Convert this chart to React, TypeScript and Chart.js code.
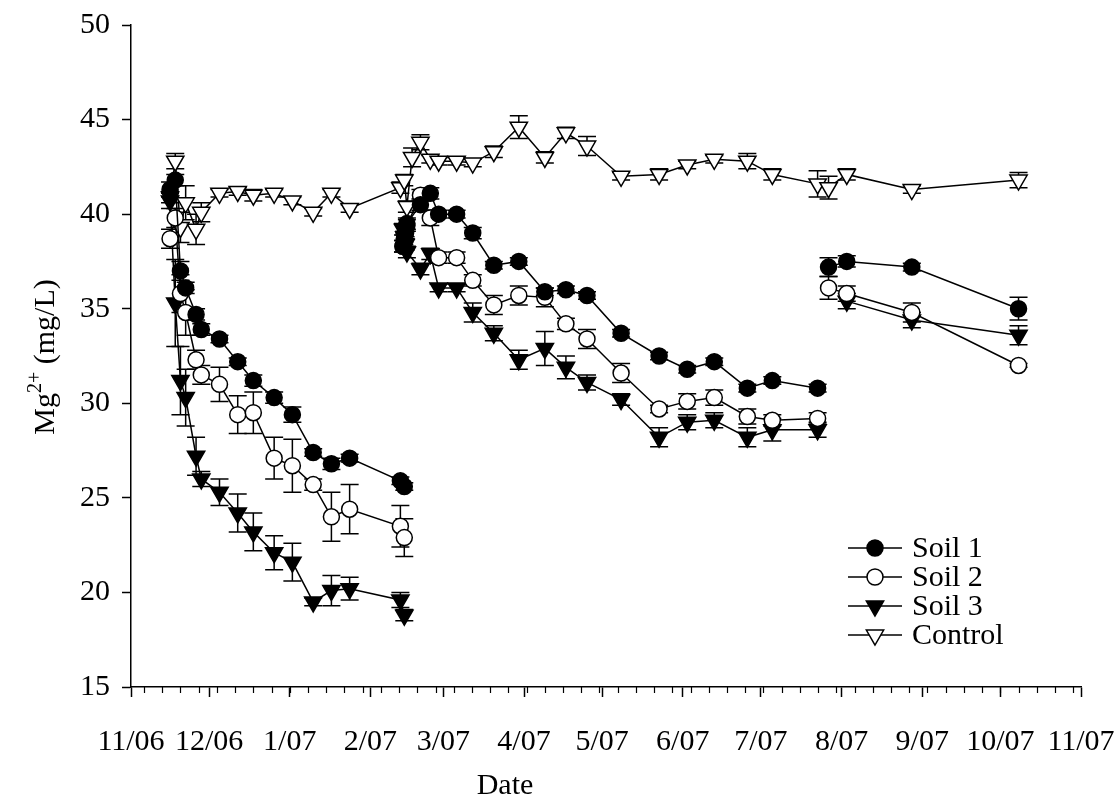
import React, { useEffect, useRef } from "react";
import { Chart, registerables } from "chart.js";

Chart.register(...registerables);

const FONT = "'Liberation Serif', 'Times New Roman', serif";
const FS = 30;

// x values are days since 1 Nov 2006
const monthTickDays = [0, 30, 61, 92, 120, 151, 181, 212, 242, 273, 304, 334, 365];
const monthTickLabels = ["11/06", "12/06", "1/07", "2/07", "3/07", "4/07", "5/07", "6/07", "7/07", "8/07", "9/07", "10/07", "11/07"];
const firstMondayDay = 5;
const xTitle = "Date";

// Run 1 (Nov 06 – Feb 07)
const run1Days = [15, 17, 19, 21, 25, 27, 34, 41, 47, 55, 62, 70, 77, 84, 103.5, 105];
const soil1Run1 = [41.3, 41.8, 37.0, 36.1, 34.7, 33.9, 33.4, 32.2, 31.2, 30.3, 29.4, 27.4, 26.8, 27.1, 25.9, 25.6];
const soil1Run1Err = [0.4, 0.3, 0.5, 0.3, 0.3, 0.3, 0.2, 0.2, 0.3, 0.3, 0.4, 0.2, 0.3, 0.2, 0.2, 0.2];
const soil2Run1 = [38.7, 39.8, 35.8, 34.8, 32.3, 31.5, 31.0, 29.4, 29.5, 27.1, 26.7, 25.7, 24.0, 24.4, 23.5, 22.9];
const soil2Run1Err = [0.5, 0.5, 1.0, 1.2, 0.5, 0.5, 0.9, 1.0, 1.1, 1.1, 1.4, 0.3, 1.3, 1.3, 1.1, 1.0];
const soil3Run1 = [40.7, 35.3, 31.2, 30.3, 27.2, 26.0, 25.3, 24.2, 23.2, 22.1, 21.6, 19.5, 20.1, 20.2, 19.6, 18.8];
const soil3Run1Err = [0.4, 2.3, 1.8, 1.5, 1.0, 0.4, 0.7, 1.0, 1.0, 0.9, 1.0, 0.2, 0.8, 0.6, 0.4, 0.3];

// Run 2 (Feb 07 – Jul 07)
const run2Days = [104.5, 105, 105.5, 106, 111.2, 115, 118.2, 125.1, 131.3, 139.4, 149, 159, 167.1, 175.2, 188.3, 202.9, 213.7, 224.1, 236.8, 246.4, 263.8];
const soil1Run2 = [38.3, 38.7, 39.1, 39.5, 40.5, 41.1, 40.0, 40.0, 39.0, 37.3, 37.5, 35.9, 36.0, 35.7, 33.7, 32.5, 31.8, 32.2, 30.8, 31.2, 30.8];
const soil1Run2Err = [0.3, 0.3, 0.3, 0.3, 0.3, 0.3, 0.2, 0.2, 0.3, 0.2, 0.2, 0.2, 0.2, 0.2, 0.2, 0.2, 0.2, 0.2, 0.2, 0.2, 0.2];
const soil2Run2 = [38.3, 38.6, 39.0, 39.4, 41.0, 39.8, 37.7, 37.7, 36.5, 35.2, 35.7, 35.6, 34.2, 33.4, 31.6, 29.7, 30.1, 30.3, 29.3, 29.1, 29.2];
const soil2Run2Err = [0.3, 0.3, 0.3, 0.3, 0.3, 0.4, 0.3, 0.3, 0.3, 0.5, 0.5, 0.5, 0.3, 0.5, 0.5, 0.2, 0.4, 0.4, 0.4, 0.3, 0.3];
const soil3Run2 = [39.2, 38.8, 38.4, 38.0, 37.1, 37.9, 36.1, 36.1, 34.8, 33.7, 32.3, 32.9, 31.9, 31.1, 30.2, 28.2, 29.0, 29.1, 28.2, 28.6, 28.6];
const soil3Run2Err = [0.3, 0.3, 0.3, 0.3, 0.3, 0.3, 0.2, 0.2, 0.5, 0.4, 0.5, 0.9, 0.6, 0.4, 0.3, 0.5, 0.4, 0.4, 0.5, 0.6, 0.4];

// Run 3 (Jul 07 – Oct 07)
const run3Days = [268, 275, 300, 341];
const soil1Run3 = [37.2, 37.5, 37.2, 35.0];
const soil1Run3Err = [0.5, 0.3, 0.2, 0.6];
const soil2Run3 = [36.1, 35.8, 34.8, 32.0];
const soil2Run3Err = [0.6, 0.4, 0.5, 0.1];
const soil3Run3 = [null, 35.4, 34.4, 33.6];
const soil3Run3Err = [0, 0.4, 0.4, 0.5];

// Control (continuous)
const controlDays = [15, 17, 19, 21, 25, 27, 34, 41, 47, 55, 62, 70, 77, 84, 103.5, 105, 106, 108, 111.2, 115, 118.2, 125.1, 131.3, 139.4, 149, 159, 167.1, 175.2, 188.3, 202.9, 213.7, 224.1, 236.8, 246.4, 263.8, 268, 275, 300, 341];
const controlValues = [40.9, 42.8, 39.3, 40.6, 39.2, 40.1, 41.1, 41.2, 41.0, 41.1, 40.7, 40.1, 41.1, 40.3, 41.4, 41.8, 40.4, 43.0, 43.8, 42.9, 42.8, 42.8, 42.7, 43.3, 44.6, 43.0, 44.3, 43.6, 42.0, 42.1, 42.6, 42.9, 42.8, 42.1, 41.6, 41.4, 42.1, 41.3, 41.8];
const controlErr = [0.3, 0.4, 0.8, 0.9, 0.8, 0.5, 0.2, 0.2, 0.3, 0.2, 0.2, 0.2, 0.2, 0.2, 0.3, 0.3, 0.3, 0.5, 0.4, 0.2, 0.2, 0.2, 0.2, 0.3, 0.6, 0.3, 0.3, 0.5, 0.2, 0.3, 0.2, 0.2, 0.4, 0.3, 0.7, 0.6, 0.3, 0.2, 0.4];

const legendLabels = ["Soil 1", "Soil 2", "Soil 3", "Control"];

const toPoints = (days: number[], vals: (number | null)[]) =>
  days.map((d, i) => ({ x: d, y: vals[i] })).filter((p) => p.y !== null);
const toErrs = (vals: (number | null)[], errs: number[]) =>
  errs.filter((_, i) => vals[i] !== null);

const styles = [
  { pointStyle: "circle", radius: 8, rotation: 0, fill: "#000" },
  { pointStyle: "circle", radius: 8, rotation: 0, fill: "#fff" },
  { pointStyle: "triangle", radius: 10, rotation: 180, fill: "#000" },
  { pointStyle: "triangle", radius: 10, rotation: 180, fill: "#fff" },
];

function makeDataset(series: number, days: number[], vals: (number | null)[], errs: number[]) {
  const s = styles[series];
  return {
    label: legendLabels[series],
    data: toPoints(days, vals),
    errors: toErrs(vals, errs),
    borderColor: "#000",
    borderWidth: 1.5,
    pointStyle: s.pointStyle,
    pointRadius: s.radius,
    pointRotation: s.rotation,
    pointBackgroundColor: s.fill,
    pointBorderColor: "#000",
    pointBorderWidth: 1.5,
    fill: false,
    tension: 0,
  };
}

function drawMarker(ctx: CanvasRenderingContext2D, s: any, x: number, y: number) {
  ctx.beginPath();
  if (s.pointStyle === "circle") {
    ctx.arc(x, y, s.radius, 0, Math.PI * 2);
  } else {
    const r = s.radius;
    for (let k = 0; k < 3; k++) {
      const a = Math.PI / 2 + (k * 2 * Math.PI) / 3;
      const px = x + Math.cos(a) * r;
      const py = y + Math.sin(a) * r;
      if (k === 0) ctx.moveTo(px, py);
      else ctx.lineTo(px, py);
    }
    ctx.closePath();
  }
  ctx.fillStyle = s.fill;
  ctx.fill();
  ctx.strokeStyle = "#000";
  ctx.lineWidth = 1.5;
  ctx.stroke();
}

const errorBarPlugin = {
  id: "errorBars",
  beforeDatasetsDraw(chart: any) {
    const ctx = chart.ctx;
    const ys = chart.scales.y;
    ctx.save();
    ctx.strokeStyle = "#000";
    ctx.lineWidth = 1.5;
    chart.data.datasets.forEach((ds: any, i: number) => {
      const meta = chart.getDatasetMeta(i);
      if (!ds.errors) return;
      meta.data.forEach((el: any, j: number) => {
        const e = ds.errors[j];
        const raw = ds.data[j];
        if (!e || raw == null) return;
        const top = ys.getPixelForValue(raw.y + e);
        const bot = ys.getPixelForValue(raw.y - e);
        const x = el.x;
        ctx.beginPath();
        ctx.moveTo(x, top);
        ctx.lineTo(x, bot);
        ctx.moveTo(x - 9, top);
        ctx.lineTo(x + 9, top);
        ctx.moveTo(x - 9, bot);
        ctx.lineTo(x + 9, bot);
        ctx.stroke();
      });
    });
    ctx.restore();
  },
};

const extrasPlugin = {
  id: "extras",
  afterDraw(chart: any) {
    const ctx = chart.ctx;
    const xs = chart.scales.x;
    const area = chart.chartArea;
    ctx.save();
    // minor weekly ticks
    ctx.strokeStyle = "#000";
    ctx.lineWidth = 1.2;
    for (let d = firstMondayDay; d < 365; d += 7) {
      const px = Math.round(xs.getPixelForValue(d)) + 0.5;
      ctx.beginPath();
      ctx.moveTo(px, area.bottom);
      ctx.lineTo(px, area.bottom + 6);
      ctx.stroke();
    }
    // x axis title
    ctx.fillStyle = "#000";
    ctx.font = `${FS}px ${FONT}`;
    ctx.textAlign = "center";
    ctx.textBaseline = "middle";
    ctx.fillText(xTitle, 505, 786);
    ctx.restore();

    // y axis title with superscript
    ctx.save();
    ctx.translate(54, 357);
    ctx.rotate(-Math.PI / 2);
    ctx.fillStyle = "#000";
    ctx.textBaseline = "alphabetic";
    ctx.textAlign = "left";
    const big = `${FS}px ${FONT}`;
    const small = `20px ${FONT}`;
    ctx.font = big;
    const w1 = ctx.measureText("Mg").width;
    const w3 = ctx.measureText(" (mg/L)").width;
    ctx.font = small;
    const w2 = ctx.measureText("2+").width;
    let x0 = -(w1 + w2 + w3) / 2;
    ctx.font = big;
    ctx.fillText("Mg", x0, 0);
    x0 += w1;
    ctx.font = small;
    ctx.fillText("2+", x0, -13);
    x0 += w2;
    ctx.font = big;
    ctx.fillText(" (mg/L)", x0, 0);
    ctx.restore();

    // legend
    ctx.save();
    ctx.font = `${FS}px ${FONT}`;
    ctx.textBaseline = "middle";
    ctx.textAlign = "left";
    legendLabels.forEach((lab, i) => {
      const y = 548 + i * 29;
      ctx.strokeStyle = "#000";
      ctx.lineWidth = 1.5;
      ctx.beginPath();
      ctx.moveTo(848, y);
      ctx.lineTo(902, y);
      ctx.stroke();
      drawMarker(ctx, styles[i], 875, y);
      ctx.fillStyle = "#000";
      ctx.fillText(lab, 912, y + 1);
    });
    ctx.restore();
  },
};

export default function App() {
  const ref = useRef<HTMLCanvasElement | null>(null);
  useEffect(() => {
    if (!ref.current) return;
    const datasets: any[] = [
      makeDataset(0, run1Days, soil1Run1, soil1Run1Err),
      makeDataset(0, run2Days, soil1Run2, soil1Run2Err),
      makeDataset(0, run3Days, soil1Run3, soil1Run3Err),
      makeDataset(1, run1Days, soil2Run1, soil2Run1Err),
      makeDataset(1, run2Days, soil2Run2, soil2Run2Err),
      makeDataset(1, run3Days, soil2Run3, soil2Run3Err),
      makeDataset(2, run1Days, soil3Run1, soil3Run1Err),
      makeDataset(2, run2Days, soil3Run2, soil3Run2Err),
      makeDataset(2, run3Days, soil3Run3, soil3Run3Err),
      makeDataset(3, controlDays, controlValues, controlErr),
    ];
    const chart = new Chart(ref.current, {
      type: "line",
      data: { datasets },
      options: {
        animation: false,
        responsive: false,
        devicePixelRatio: 1,
        layout: { padding: { left: 0, right: 36, top: 25, bottom: 2 } },
        plugins: { legend: { display: false }, tooltip: { enabled: false } },
        scales: {
          x: {
            type: "linear",
            min: 0,
            max: 365,
            afterFit: (scale: any) => {
              scale.height = 116;
              scale.paddingLeft = 0;
              scale.paddingRight = 0;
            },
            afterBuildTicks: (scale: any) => {
              scale.ticks = monthTickDays.map((v) => ({ value: v }));
            },
            ticks: {
              autoSkip: false,
              maxRotation: 0,
              padding: 27,
              color: "#000",
              font: { family: FONT, size: FS },
              callback: (_v: any, i: number) => monthTickLabels[i],
            },
            grid: {
              display: true,
              drawOnChartArea: false,
              drawTicks: true,
              tickLength: 10,
              tickColor: "#000",
              tickWidth: 1.5,
            },
            border: { display: true, color: "#000", width: 1.5 },
            title: { display: false },
          },
          y: {
            type: "linear",
            min: 15,
            max: 50,
            afterFit: (scale: any) => {
              scale.width = 131;
              scale.paddingTop = 0;
              scale.paddingBottom = 0;
            },
            ticks: {
              stepSize: 5,
              padding: 12,
              color: "#000",
              font: { family: FONT, size: FS },
            },
            grid: {
              display: true,
              drawOnChartArea: false,
              drawTicks: true,
              tickLength: 9,
              tickColor: "#000",
              tickWidth: 1.5,
            },
            border: { display: true, color: "#000", width: 1.5 },
          },
        },
      } as any,
      plugins: [errorBarPlugin, extrasPlugin],
    });
    return () => chart.destroy();
  }, []);
  return (
    <div style={{ position: "absolute", left: 0, top: 0, width: 1117, height: 805, background: "#fff" }}>
      <canvas ref={ref} width={1117} height={805} />
    </div>
  );
}
